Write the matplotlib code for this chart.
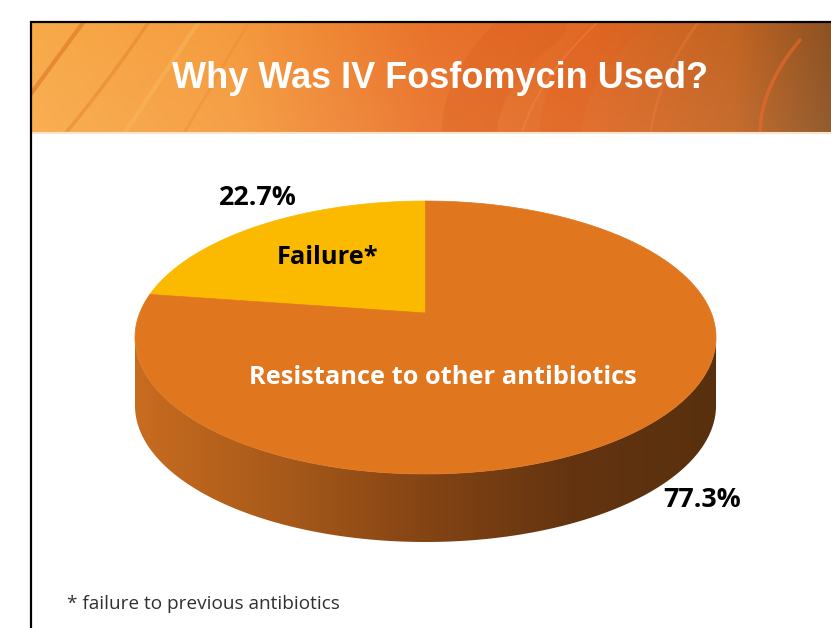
import numpy as np
import matplotlib
matplotlib.use("Agg")
import matplotlib.pyplot as plt
from matplotlib.patches import Polygon, Rectangle
from matplotlib.colors import LinearSegmentedColormap

# ---- data ----
title = "Why Was IV Fosfomycin Used?"
categories = ["Failure*", "Resistance to other antibiotics"]
values = [22.7, 77.3]
pct_labels = ["22.7%", "77.3%"]
footnote = "* failure to previous antibiotics"

W, H = 831, 628
fig = plt.figure(figsize=(W / 100, H / 100), dpi=100)
ax = fig.add_axes([0, 0, 1, 1])
ax.set_xlim(0, W)
ax.set_ylim(H, 0)
ax.axis("off")
fig.patch.set_facecolor("white")

# ---- header band ----
hx0, hx1, hy0, hy1 = 31, W, 23, 133
xs = np.linspace(0, 1, 400)
stops = [(0.0, (248, 170, 72)), (0.25, (245, 155, 62)), (0.5, (233, 114, 42)),
         (0.7, (223, 104, 36)), (0.88, (194, 100, 34)), (1.0, (140, 82, 34))]
cols = np.zeros((400, 3))
for i in range(3):
    cols[:, i] = np.interp(xs, [s[0] for s in stops], [s[1][i] for s in stops]) / 255
grad = np.tile(cols[None, :, :], (60, 1, 1))
vy = np.linspace(0, 1, 60)[:, None, None]
grad = grad * (1 - 0.06 * vy) + 0.06 * vy
ax.imshow(grad, extent=[hx0, hx1, hy1, hy0], aspect="auto", zorder=1, interpolation="bilinear")
clip_rect = Rectangle((hx0, hy0), hx1 - hx0, hy1 - hy0, transform=ax.transData)

def streak(x0, y0, x1, y1, bend, color, lw, alpha):
    t = np.linspace(0, 1, 60)
    mx, my = (x0 + x1) / 2 + bend, (y0 + y1) / 2
    px = (1 - t) ** 2 * x0 + 2 * (1 - t) * t * mx + t ** 2 * x1
    py = (1 - t) ** 2 * y0 + 2 * (1 - t) * t * my + t ** 2 * y1
    ln, = ax.plot(px, py, color=color, lw=lw, alpha=alpha, solid_capstyle="round", zorder=2)
    ln.set_clip_path(clip_rect)

streak(30, 95, 85, 20, 0, "#d86a20", 3, 0.5)
streak(60, 140, 150, 20, 5, "#e07a28", 2.5, 0.4)
streak(120, 140, 200, 20, 0, "#f9b860", 3, 0.5)
streak(180, 140, 250, 20, 0, "#e98a35", 2, 0.4)
streak(470, 140, 540, 20, -40, "#d95a1c", 40, 0.25)
streak(560, 140, 620, 20, -30, "#e35f1d", 30, 0.25)
streak(760, 135, 800, 40, -20, "#ef6a2a", 2.5, 0.6)
streak(650, 140, 700, 20, -20, "#f08040", 2, 0.35)
streak(520, 140, 600, 20, -25, "#f49050", 1.5, 0.35)
ax.plot([hx0, hx1], [hy1, hy1], color="#fbe3cc", lw=1.5, zorder=3)

ax.text(440, 79, title, color="white", fontsize=26, fontweight="bold",
        family="Liberation Sans", ha="center", va="center", zorder=4)

# ---- frame ----
ax.plot([30.5, 30.5, W], [H, 22, 22], color="black", lw=1.6, zorder=5,
        solid_joinstyle="miter")

# ---- 3D pie ----
cx, cy = 425.5, 313.0   # apex of the pie on screen
A, B, k = 285.8, 132.1, 0.1795
D = 68.0
col_top = ["#FBB900", "#E0761E"]

def proj(theta_deg, depth=0.0):
    th = np.radians(theta_deg)
    X, Z = np.cos(th), np.sin(th)
    den = 1 + k * Z
    return cx + A * X / den, cy - B * Z / den + depth

# side wall (front half)
t1 = 180 + np.degrees(np.arcsin(k))
t2 = 360 - np.degrees(np.arcsin(k))
th = np.linspace(t1, t2, 300)
tx, ty = proj(th)
bx, by = proj(th[::-1], D)
side = Polygon(np.column_stack([np.r_[tx, bx], np.r_[ty, by]]), closed=True,
               facecolor="none", edgecolor="none", zorder=6)
ax.add_patch(side)
side_cmap = LinearSegmentedColormap.from_list(
    "side", ["#C86C20", "#A85A1A", "#844414", "#643410", "#58300e"])
g = np.linspace(0, 1, 256)[None, :]
im = ax.imshow(g, cmap=side_cmap, extent=[tx.min(), tx.max(), by.max() + 2, ty.min() - 2],
               aspect="auto", zorder=6, interpolation="bilinear")
im.set_clip_path(side)

# top faces
fr = np.array(values) / sum(values)
start = 90.0
for i, f in enumerate(fr):
    end = start + f * 360
    th = np.linspace(start, end, 300)
    px, py = proj(th)
    poly = Polygon(np.column_stack([np.r_[cx, px], np.r_[cy, py]]), closed=True,
                   facecolor=col_top[i], edgecolor=col_top[i], lw=0.5, zorder=7)
    ax.add_patch(poly)
    start = end

# labels
lab_font = "Open Sans"
ax.text(328, 258, categories[0], color="black", fontsize=18.3, fontweight="bold",
        family=lab_font, ha="center", va="center", zorder=8)
ax.text(443, 377, categories[1], color="white", fontsize=18.3, fontweight="bold",
        family=lab_font, ha="center", va="center", zorder=8)
ax.text(258, 198, pct_labels[0], color="black", fontsize=19.3, fontweight="bold",
        family=lab_font, ha="center", va="center", zorder=8)
ax.text(702, 500, pct_labels[1], color="black", fontsize=19.3, fontweight="bold",
        family=lab_font, ha="center", va="center", zorder=8)

ax.text(67, 604, footnote, color="#303030", fontsize=13.7, family=lab_font,
        ha="left", va="center", zorder=8)

fig.savefig("out.png", dpi=100, facecolor="white")
